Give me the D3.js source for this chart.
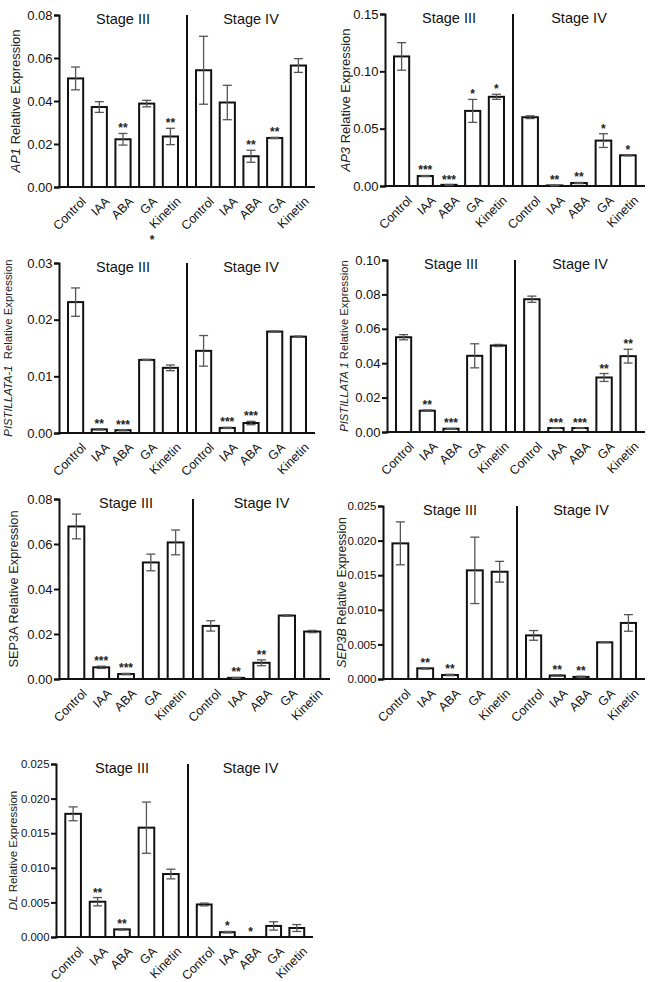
<!DOCTYPE html>
<html><head><meta charset="utf-8">
<script src="https://cdn.jsdelivr.net/npm/d3@7/dist/d3.min.js"></script>
<style>
html,body{margin:0;padding:0;background:#fff;}
svg{display:block;font-family:"Liberation Sans",Arial,sans-serif;}
</style></head>
<body>
<svg id="chart" width="649" height="982"></svg>
<script>
// ---------------- data ----------------
const categories = ["Control","IAA","ABA","GA","Kinetin"];
const stages = ["Stage III","Stage IV"];

// values: Stage III (5) then Stage IV (5)
const ap1Mean = [0.0505,0.0372,0.0222,0.0388,0.0235, 0.0543,0.0393,0.0143,0.0228,0.0565];
const ap1Err  = [0.0053,0.0025,0.0027,0.0015,0.0038, 0.0158,0.0080,0.0028,0.0003,0.0032];
const ap1Sig  = ["","","**","","**", "","","**","**",""];

const ap3Mean = [0.113,0.0087,0.0010,0.0655,0.0778, 0.0600,0.0005,0.0026,0.0396,0.0268];
const ap3Err  = [0.012,0.0005,0.0003,0.0100,0.0022, 0.0012,0.0002,0.0005,0.0060,0.0005];
const ap3Sig  = ["","***","***","*","*", "","**","**","*","*"];

const pi1Mean = [0.0231,0.00064,0.0005,0.0129,0.0115, 0.0145,0.0009,0.00176,0.0179,0.0170];
const pi1Err  = [0.0025,0.0001,0.0001,0.0001,0.0005, 0.0027,0.0001,0.0003,0.0001,0.0001];
const pi1Sig  = ["","**","***","","", "","***","***","",""];

const pi2Mean = [0.0551,0.0124,0.0019,0.0443,0.0503, 0.0772,0.0023,0.0023,0.0317,0.0441];
const pi2Err  = [0.0015,0.0004,0.0002,0.0070,0.0006, 0.0018,0.0002,0.0002,0.0023,0.0040];
const pi2Sig  = ["","**","***","","", "","***","***","**","**"];

const sep3aMean = [0.0678,0.0052,0.0022,0.0518,0.0607, 0.0236,0.0005,0.0072,0.0282,0.0211];
const sep3aErr  = [0.0055,0.0005,0.0003,0.0037,0.0055, 0.0023,0.0002,0.0013,0.0003,0.0005];
const sep3aSig  = ["","***","***","","", "","**","**","",""];

const sep3bMean = [0.0196,0.00154,0.00058,0.0157,0.0155, 0.0063,0.0005,0.0003,0.0053,0.0081];
const sep3bErr  = [0.0031,0.0001,0.0001,0.0048,0.0015, 0.0007,0.0001,0.0001,0.00005,0.0012];
const sep3bSig  = ["","**","**","","", "","**","**","",""];

const dlMean = [0.0178,0.0051,0.0011,0.0158,0.0091, 0.0047,0.0007,0.0000,0.0016,0.0013];
const dlErr  = [0.0010,0.0006,0.0001,0.0037,0.0007, 0.0002,0.0001,0.0000,0.0006,0.0005];
const dlSig  = ["","**","**","","", "","*","*","",""];

const yTicksA = [0,0.02,0.04,0.06,0.08];
const yTicksB = [0,0.05,0.10,0.15];
const yTicksC = [0,0.01,0.02,0.03];
const yTicksD = [0,0.02,0.04,0.06,0.08,0.10];
const yTicksE = [0,0.005,0.010,0.015,0.020,0.025];

const genes = [
  {gene:"AP1", italic:true, rest:" Relative Expression", mean:ap1Mean, err:ap1Err, sig:ap1Sig, ticks:yTicksA, fmt:".2f"},
  {gene:"AP3", italic:true, rest:" Relative Expression", mean:ap3Mean, err:ap3Err, sig:ap3Sig, ticks:yTicksB, fmt:".2f"},
  {gene:"PISTILLATA-1", italic:true, rest:"  Relative Expression", mean:pi1Mean, err:pi1Err, sig:pi1Sig, ticks:yTicksC, fmt:".2f"},
  {gene:"PISTILLATA 1", italic:true, rest:" Relative Expression", mean:pi2Mean, err:pi2Err, sig:pi2Sig, ticks:yTicksD, fmt:".2f"},
  {gene:"SEP3A", italic:false, rest:" Relative Expression", mean:sep3aMean, err:sep3aErr, sig:sep3aSig, ticks:yTicksA, fmt:".2f"},
  {gene:"SEP3B", italic:true, rest:" Relative Expression", mean:sep3bMean, err:sep3bErr, sig:sep3bSig, ticks:yTicksE, fmt:".3f"},
  {gene:"DL", italic:true, rest:" Relative Expression", mean:dlMean, err:dlErr, sig:dlSig, ticks:yTicksE, fmt:".3f"}
];

// ---------------- layout (positions only) ----------------
const layout = [
  {x0:59,  x1:315, div:187, yTop:15,  yBot:187, lx:20,  lsize:13,   tsize:13},
  {x0:385, x1:645, div:513, yTop:14,  yBot:186, lx:350, lsize:13,   tsize:13},
  {x0:59,  x1:315, div:187, yTop:263, yBot:433, lx:12,  lsize:11.3, tsize:13},
  {x0:387, x1:645, div:515, yTop:260, yBot:432, lx:348, lsize:11.2, tsize:13},
  {x0:59,  x1:330, div:193, yTop:499, yBot:679, lx:18,  lsize:12.8, tsize:13},
  {x0:383, x1:645, div:517, yTop:506, yBot:679, lx:346, lsize:12.2, tsize:11.6},
  {x0:56,  x1:313, div:188, yTop:764, yBot:937, lx:17,  lsize:11.5, tsize:11.4}
];

const svg = d3.select("#chart");
const FONT = "'Liberation Sans', Arial, sans-serif";

genes.forEach((g, gi) => {
  const L = layout[gi];
  const gRoot = svg.append("g");
  const yMax = g.ticks[g.ticks.length-1];
  const y = d3.scaleLinear().domain([0, yMax]).range([L.yBot, L.yTop]);
  const stageX = d3.scaleOrdinal().domain(stages).range([[L.x0, L.div],[L.div, L.x1]]);

  // y axis
  const yAxis = d3.axisLeft(y).tickValues(g.ticks).tickFormat(d3.format(g.fmt))
      .tickSizeOuter(0).tickSize(5).tickPadding(1.5);
  const ya = gRoot.append("g").attr("transform", `translate(${L.x0},0)`).call(yAxis);
  ya.select(".domain").attr("stroke","#111").attr("stroke-width",2);
  ya.selectAll(".tick line").attr("stroke","#111").attr("stroke-width",2);
  ya.selectAll(".tick text").attr("font-size",L.tsize).attr("font-family",FONT).attr("fill","#111");

  // x axis baseline
  gRoot.append("line").attr("x1", L.x0-1).attr("x2", L.x1)
    .attr("y1", y(0)).attr("y2", y(0)).attr("stroke","#111").attr("stroke-width",2);
  // divider
  gRoot.append("line").attr("x1", L.div).attr("x2", L.div)
    .attr("y1", y(yMax)).attr("y2", y(0)).attr("stroke","#111").attr("stroke-width",2);

  // y label
  const lab = gRoot.append("text")
    .attr("transform", `translate(${L.lx},${(L.yTop+L.yBot)/2}) rotate(-90)`)
    .attr("text-anchor","middle").attr("font-size",L.lsize).attr("font-family",FONT).attr("fill","#222");
  lab.append("tspan").attr("font-style", g.italic ? "italic" : "normal").text(g.gene);
  lab.append("tspan").style("white-space","pre").text(g.rest);

  stages.forEach((st, si) => {
    const [a, b] = stageX(st);
    const xb = d3.scaleBand().domain(categories).range([a, b]).paddingInner(0.36).paddingOuter(0.38);
    const gs = gRoot.append("g");
    // stage title
    gs.append("text").attr("x", (a+b)/2).attr("y", L.yTop+9).attr("text-anchor","middle")
      .attr("font-size",14.5).attr("font-family",FONT).attr("fill","#111").text(st);

    const rows = categories.map((c, ci) => ({
      c, m: g.mean[si*5+ci], e: g.err[si*5+ci], s: g.sig[si*5+ci]
    }));
    // bars
    gs.selectAll("rect.bar").data(rows).join("rect").attr("class","bar")
      .attr("x", d => xb(d.c)).attr("width", xb.bandwidth())
      .attr("y", d => y(d.m)).attr("height", d => Math.max(0, y(0) - y(d.m)))
      .attr("fill","#fff").attr("stroke","#111").attr("stroke-width",2);
    // error bars
    const cap = 4.5;
    const eb = gs.selectAll("g.err").data(rows.filter(d => d.e > 0)).join("g").attr("class","err")
      .attr("stroke","#555").attr("stroke-width",1.3);
    eb.append("line").attr("x1", d => xb(d.c)+xb.bandwidth()/2).attr("x2", d => xb(d.c)+xb.bandwidth()/2)
      .attr("y1", d => y(d.m+d.e)).attr("y2", d => y(Math.max(0,d.m-d.e)));
    eb.append("line").attr("x1", d => xb(d.c)+xb.bandwidth()/2-cap).attr("x2", d => xb(d.c)+xb.bandwidth()/2+cap)
      .attr("y1", d => y(d.m+d.e)).attr("y2", d => y(d.m+d.e));
    eb.append("line").attr("x1", d => xb(d.c)+xb.bandwidth()/2-cap).attr("x2", d => xb(d.c)+xb.bandwidth()/2+cap)
      .attr("y1", d => y(Math.max(0,d.m-d.e))).attr("y2", d => y(Math.max(0,d.m-d.e)));
    // significance
    gs.selectAll("text.sig").data(rows.filter(d => d.s)).join("text").attr("class","sig")
      .attr("x", d => xb(d.c)+xb.bandwidth()/2).attr("y", d => y(d.m+d.e) - 1)
      .attr("text-anchor","middle").attr("font-size",12).attr("font-weight","bold")
      .attr("font-family",FONT).attr("fill","#222").text(d => d.s);
    // x labels
    gs.selectAll("text.xl").data(rows).join("text").attr("class","xl")
      .attr("transform", d => `translate(${xb(d.c)+xb.bandwidth()/2+5},${y(0)+9}) rotate(-45)`)
      .attr("text-anchor","end").attr("dy","0.7em").attr("font-size",12.5).attr("font-family",FONT)
      .attr("fill","#111").text(d => d.c);
  });
});

// stray mark below first panel, as in the source figure
svg.append("text").attr("x",152).attr("y",244).attr("text-anchor","middle")
  .attr("font-size",12).attr("font-weight","bold").attr("font-family",FONT).attr("fill","#222").text("*");
</script>
</body></html>
